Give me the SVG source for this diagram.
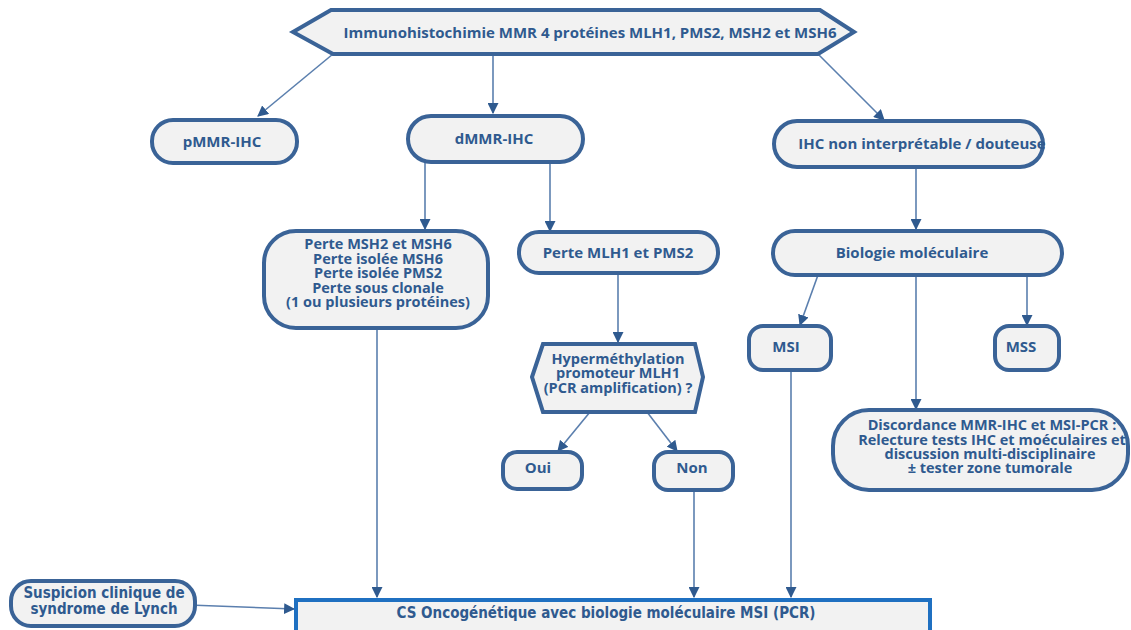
<svg xmlns="http://www.w3.org/2000/svg" width="1131" height="630" viewBox="0 0 1131 630">
  <defs>
    <marker id="arr" viewBox="0 0 10 10" refX="9" refY="5" markerWidth="11" markerHeight="11" markerUnits="userSpaceOnUse" orient="auto">
      <path d="M0,0 L10,5 L0,10 z" fill="#2f5a8f"/>
    </marker>
    <style>
      .node { fill: #f2f2f2; stroke: #3a6397; stroke-width: 4; }
      .cs { fill: #f2f2f2; stroke: #1f70c1; stroke-width: 4; }
      .lbl { font-family: "Open Sans", "Liberation Sans", sans-serif; font-weight: 700; font-size: 15px; fill: #2f5a8f; text-anchor: middle; }
      .sm { font-size: 14.5px; }
      .cond { font-family: "DejaVu Sans Condensed", "Liberation Sans", sans-serif; font-weight: 600; font-size: 15px; fill: #2f5a8f; text-anchor: middle; }
      .edge { stroke: #5b7fae; stroke-width: 1.6; fill: none; marker-end: url(#arr); }
    </style>
  </defs>
  <rect width="1131" height="630" fill="#ffffff"/>

  <g id="connectors">
    <line class="edge" x1="333" y1="54" x2="258" y2="116"/>
    <line class="edge" x1="493" y1="54" x2="493" y2="113"/>
    <line class="edge" x1="818" y1="54" x2="884" y2="120"/>
    <line class="edge" x1="425" y1="162" x2="425" y2="229"/>
    <line class="edge" x1="550" y1="162" x2="550" y2="231"/>
    <line class="edge" x1="916" y1="167" x2="916" y2="229"/>
    <line class="edge" x1="618" y1="273" x2="618" y2="342"/>
    <line class="edge" x1="590" y1="412" x2="558" y2="451"/>
    <line class="edge" x1="647" y1="412" x2="677" y2="451"/>
    <line class="edge" x1="818" y1="275" x2="800" y2="325"/>
    <line class="edge" x1="916" y1="275" x2="916" y2="409"/>
    <line class="edge" x1="1027" y1="275" x2="1027" y2="325"/>
    <line class="edge" x1="377" y1="328" x2="377" y2="597"/>
    <line class="edge" x1="694" y1="490" x2="694" y2="597"/>
    <line class="edge" x1="791" y1="370" x2="791" y2="597"/>
    <line class="edge" x1="189" y1="605" x2="294" y2="609"/>
  </g>

  <g id="n-ihc">
    <polygon class="node" points="293,32 331,10 820,10 854,32 818,54 333,54"/>
    <text class="lbl" x="590" y="38">Immunohistochimie MMR 4 protéines MLH1, PMS2, MSH2 et MSH6</text>
  </g>

  <g id="n-pmmr">
    <rect class="node" x="152" y="120" width="145" height="43" rx="21"/>
    <text class="lbl" x="222" y="147">pMMR-IHC</text>
  </g>

  <g id="n-dmmr">
    <rect class="node" x="408" y="116" width="175" height="46" rx="23"/>
    <text class="lbl" x="494" y="144">dMMR-IHC</text>
  </g>

  <g id="n-nonint">
    <rect class="node" x="774" y="121" width="269" height="46" rx="23"/>
    <text class="lbl" x="922" y="149">IHC non interprétable / douteuse</text>
  </g>

  <g id="n-perte-msh">
    <rect class="node" x="264" y="231" width="224" height="97" rx="32"/>
    <text class="lbl sm" x="378" y="249">Perte MSH2 et MSH6</text>
    <text class="lbl sm" x="378" y="264">Perte isolée MSH6</text>
    <text class="lbl sm" x="378" y="278">Perte isolée PMS2</text>
    <text class="lbl sm" x="378" y="293">Perte sous clonale</text>
    <text class="lbl sm" x="378" y="307">(1 ou plusieurs protéines)</text>
  </g>

  <g id="n-perte-mlh">
    <rect class="node" x="519" y="232" width="199" height="41" rx="20"/>
    <text class="lbl" x="618" y="258">Perte MLH1 et PMS2</text>
  </g>

  <g id="n-hyper">
    <polygon class="node" points="532,377 543,344 695,344 703,377 695,412 543,412"/>
    <text class="lbl sm" x="618" y="364">Hyperméthylation</text>
    <text class="lbl sm" x="618" y="378">promoteur MLH1</text>
    <text class="lbl sm" x="618" y="393">(PCR amplification) ?</text>
  </g>

  <g id="n-oui">
    <rect class="node" x="503" y="452" width="79" height="37" rx="14"/>
    <text class="lbl" x="538" y="473">Oui</text>
  </g>

  <g id="n-non">
    <rect class="node" x="654" y="452" width="79" height="38" rx="14"/>
    <text class="lbl" x="692" y="473">Non</text>
  </g>

  <g id="n-bio">
    <rect class="node" x="773" y="231" width="289" height="44" rx="22"/>
    <text class="lbl" x="912" y="258">Biologie moléculaire</text>
  </g>

  <g id="n-msi">
    <rect class="node" x="749" y="326" width="82" height="44" rx="14"/>
    <text class="lbl" x="786" y="352">MSI</text>
  </g>

  <g id="n-mss">
    <rect class="node" x="995" y="326" width="64" height="44" rx="14"/>
    <text class="lbl" x="1021" y="352">MSS</text>
  </g>

  <g id="n-disc">
    <rect class="node" x="833" y="410" width="295" height="80" rx="36"/>
    <text class="lbl sm" x="992" y="430">Discordance MMR-IHC et MSI-PCR :</text>
    <text class="lbl sm" x="992" y="445">Relecture tests IHC et moéculaires et</text>
    <text class="lbl sm" x="990" y="459">discussion multi-disciplinaire</text>
    <text class="lbl sm" x="990" y="473">± tester zone tumorale</text>
  </g>

  <g id="n-lynch">
    <rect class="node" x="11" y="581" width="184" height="45" rx="20"/>
    <text class="cond" x="104" y="598" font-size="14.5">Suspicion clinique de</text>
    <text class="cond" x="104" y="614" font-size="14.5">syndrome de Lynch</text>
  </g>

  <g id="n-cs">
    <rect class="cs" x="296" y="600" width="634" height="32"/>
    <text class="cond" x="606" y="618">CS Oncogénétique avec biologie moléculaire MSI (PCR)</text>
  </g>
</svg>
